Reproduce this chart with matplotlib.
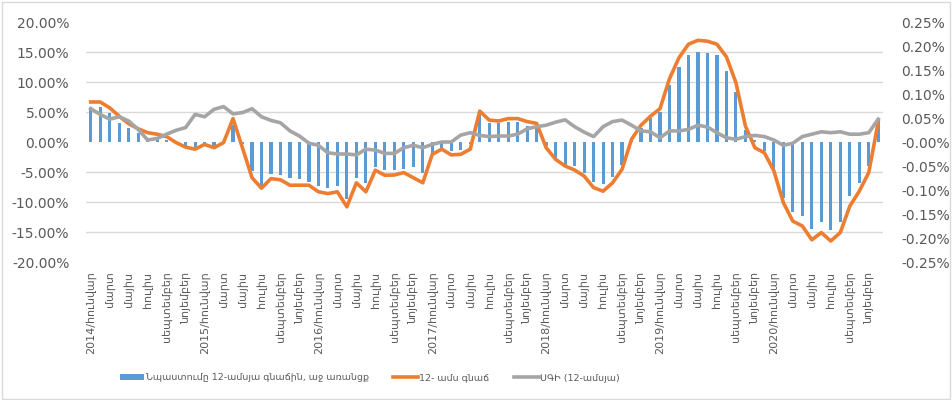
import numpy as np
import matplotlib
matplotlib.use("Agg")
import matplotlib.pyplot as plt
from matplotlib.patches import Patch, Rectangle
from matplotlib.lines import Line2D
from matplotlib.ticker import FuncFormatter

# months 2014/01 .. 2020/12
years = list(range(2014, 2021))
month_names = ["հունվար", "մարտ", "մայիս", "հուլիս", "սեպտեմբեր", "նոյեմբեր"]

# contribution to 12-month inflation, right axis (%)
contribution = [
    0.073, 0.073, 0.061, 0.040, 0.030, 0.019, 0.009, 0.007, 0.005, 0.001, -0.008, -0.010,
    -0.005, -0.008, -0.002, 0.035, -0.005, -0.060, -0.092, -0.067, -0.069, -0.076, -0.078, -0.083,
    -0.092, -0.095, -0.092, -0.119, -0.074, -0.085, -0.053, -0.059, -0.059, -0.057, -0.053, -0.064,
    -0.024, -0.012, -0.019, -0.017, -0.005, 0.058, 0.039, 0.039, 0.042, 0.042, 0.033, 0.033,
    -0.008, -0.036, -0.048, -0.051, -0.065, -0.083, -0.088, -0.072, -0.047, 0.003, 0.030, 0.049,
    0.063, 0.118, 0.157, 0.181, 0.188, 0.186, 0.181, 0.148, 0.104, 0.026, 0.004, -0.019,
    -0.056, -0.116, -0.146, -0.154, -0.182, -0.167, -0.183, -0.167, -0.113, -0.086, -0.050, 0.047,
]

# 12-month inflation of the item, left axis (%)
item_inflation = [
    6.67, 6.67, 5.7, 4.3, 3.05, 2.2, 1.55, 1.3, 0.9, -0.1, -0.85, -1.2,
    -0.4, -0.95, -0.1, 3.9, -1.0, -5.95, -7.7, -6.1, -6.3, -7.2, -7.2, -7.2,
    -8.3, -8.6, -8.3, -10.8, -6.8, -8.3, -4.7, -5.55, -5.5, -5.1, -5.95, -6.8,
    -2.05, -1.2, -2.15, -2.05, -1.2, 5.15, 3.65, 3.5, 3.9, 3.9, 3.4, 3.1,
    -0.95, -2.9, -4.0, -4.67, -5.67, -7.6, -8.2, -6.8, -4.55, 0.45, 2.8, 4.3,
    5.55, 10.55, 14.05, 16.3, 16.95, 16.8, 16.3, 14.2, 9.9, 2.67, -0.95, -1.8,
    -4.8, -10.1, -13.2, -14.0, -16.3, -15.1, -16.5, -15.1, -10.7, -8.2, -5.1, 3.33,
]

# CPI 12-month, left axis (%)
cpi = [
    5.55, 4.6, 3.8, 4.2, 3.5, 2.1, 0.33, 0.6, 1.3, 1.95, 2.4, 4.6,
    4.2, 5.45, 5.9, 4.7, 4.9, 5.55, 4.2, 3.6, 3.2, 1.85, 1.0, -0.2,
    -0.55, -1.8, -2.0, -2.0, -2.15, -1.2, -1.35, -1.9, -1.9, -0.95, -0.55, -0.95,
    -0.4, 0.0, 0.0, 1.15, 1.55, 1.1, 0.9, 1.0, 1.0, 1.3, 2.2, 2.55,
    2.8, 3.3, 3.7, 2.55, 1.65, 0.9, 2.55, 3.4, 3.65, 2.8, 1.85, 1.7,
    0.7, 1.85, 1.85, 2.1, 2.8, 2.5, 1.55, 0.7, 0.45, 0.9, 1.1, 0.9,
    0.33, -0.55, -0.2, 0.9, 1.3, 1.7, 1.55, 1.7, 1.3, 1.3, 1.55, 3.8,
]

legend_labels = ["Նպաստումը 12-ամսյա գնաճին, աջ առանցք", "12- ամս գնաճ", "ՍԳԻ (12-ամսյա)"]

blue = "#5B9BD5"
orange = "#ED7D31"
gray = "#A5A5A5"
txt = "#595959"

plt.rcParams["font.family"] = ["DejaVu Sans"]

n = len(cpi)
x = np.arange(n)
tick_pos = x[::2]
tick_labels = []
for y in years:
    for k, m in enumerate(month_names):
        tick_labels.append(f"{y}/{m}" if k == 0 else m)

fig = plt.figure(figsize=(9.52, 4.0), dpi=100)
fig.patches.append(Rectangle((0.002, 0.003), 0.996, 0.992, transform=fig.transFigure,
                             fill=False, edgecolor="#D9D9D9", linewidth=1))

# bars on the right axis (drawn behind)
axr = fig.add_axes([0.0903, 0.345, 0.8372, 0.6])
axl = axr.twinx()

axr.bar(x, contribution, width=0.33, color=blue, zorder=2)
axr.set_ylim(-0.25, 0.25)
axr.set_yticks(np.arange(-0.25, 0.2501, 0.05))
axr.set_yticks(np.linspace(-0.25, 0.25, 9), minor=True)
axr.yaxis.set_major_formatter(FuncFormatter(lambda v, p: f"{v:.2f}%"))
axr.yaxis.tick_right()
axr.grid(which="minor", axis="y", color="#D9D9D9", linewidth=1)
axr.set_axisbelow(True)
axr.tick_params(axis="y", which="both", length=0, labelsize=10, labelcolor=txt, pad=13)
axr.set_xlim(-0.5, n - 0.5)
axr.set_xticks(tick_pos)
axr.set_xticklabels(tick_labels, rotation=90, fontsize=8, color=txt)
axr.tick_params(axis="x", length=0, pad=7)
for s in axr.spines.values():
    s.set_visible(False)

# lines on the left axis
axl.plot(x, item_inflation, color=orange, linewidth=2.6, solid_joinstyle="round")
axl.plot(x, cpi, color=gray, linewidth=2.6, solid_joinstyle="round")
axl.set_ylim(-20, 20)
axl.set_yticks(np.arange(-20, 20.01, 5))
axl.yaxis.set_major_formatter(FuncFormatter(lambda v, p: f"{v:.2f}%"))
axl.yaxis.tick_left()
axl.tick_params(axis="y", length=0, labelsize=10, labelcolor=txt, pad=12)
for s in axl.spines.values():
    s.set_visible(False)

handles = [
    Patch(facecolor=blue),
    Line2D([], [], color=orange, linewidth=2.6),
    Line2D([], [], color=gray, linewidth=2.6),
]
fig.legend(handles, legend_labels, loc="center left", bbox_to_anchor=(0.117, 0.055),
           ncol=3, frameon=False, fontsize=6.8, labelcolor=txt,
           handlelength=2.6, handleheight=0.55, handletextpad=0.15, columnspacing=2.6)

fig.savefig("out.png", dpi=100)
